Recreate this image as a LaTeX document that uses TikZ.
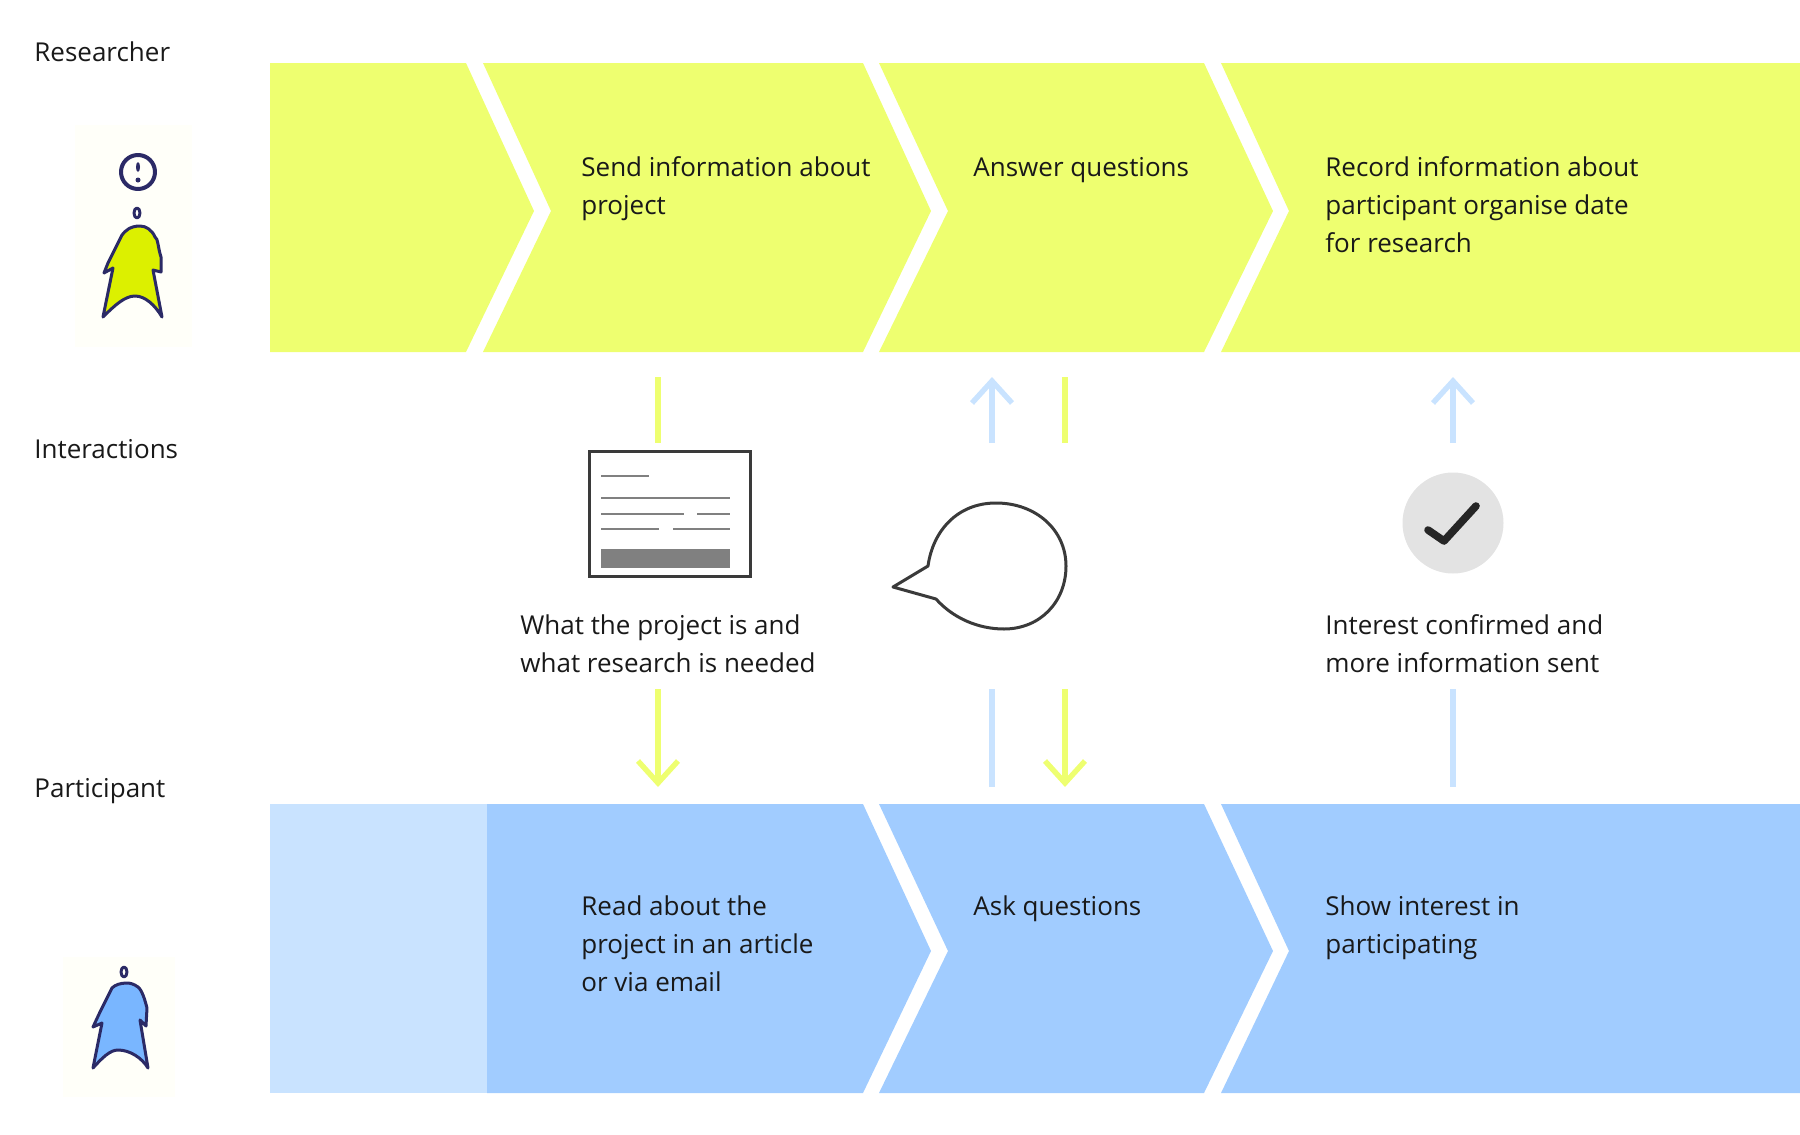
\documentclass[tikz,border=0pt]{standalone}
\usepackage{fontspec}
\setmainfont{Open Sans}
\usetikzlibrary{arrows.meta}

\definecolor{lime}{HTML}{EEFF70}
\definecolor{skydark}{HTML}{A1CCFF}
\definecolor{skylight}{HTML}{C9E3FF}
\definecolor{limeline}{HTML}{EEFF70}
\definecolor{inkline}{HTML}{3A3A3A}
\definecolor{sketchink}{HTML}{2B2A66}
\definecolor{sketchlime}{HTML}{DCF000}
\definecolor{sketchsky}{HTML}{79B6FF}
\definecolor{paper}{HTML}{FFFFF9}

\begin{document}
\begin{tikzpicture}[%
        x=0.5pt,
        y=-0.5pt,
        >={Straight Barb[length=11pt,width=20pt]},
        label/.style={anchor=north west,inner sep=0pt,align=left,text=black!90,
                      font=\fontsize{13}{19}\selectfont},
        limeflow/.style={draw=limeline,line width=2.7pt},
        skyflow/.style={draw=skylight,line width=2.7pt},
        sketch/.style={draw=sketchink,line width=1.5pt,line join=round},
        docline/.style={draw=gray,line width=1pt}
        ]
        \useasboundingbox (0,0) rectangle (1800,1135);

        % bands
        \fill[lime] (270,63) -- (466,63) -- (534,211) -- (466,352) -- (270,352) -- cycle;
        \fill[lime] (483,63) -- (863,63) -- (931,211) -- (863,352) -- (483,352) -- (551,211) -- cycle;
        \fill[lime] (879,63) -- (1204,63) -- (1273,211) -- (1204,352) -- (879,352) -- (948,211) -- cycle;
        \fill[lime] (1221,63) -- (1800,63) -- (1800,352) -- (1221,352) -- (1289,211) -- cycle;

        \fill[skylight] (270,804) rectangle (487,1093);
        \fill[skydark] (487,804) -- (863,804) -- (931,951) -- (863,1093) -- (487,1093) -- cycle;
        \fill[skydark] (879,804) -- (1204,804) -- (1273,951) -- (1204,1093) -- (879,1093) -- (948,951) -- cycle;
        \fill[skydark] (1221,804) -- (1800,804) -- (1800,1093) -- (1221,1093) -- (1289,951) -- cycle;

        % row names
        \node[label] (researcher) at (34,41) {Researcher};
        \node[label] (interactions) at (34,439) {Interactions};
        \node[label] (participant) at (34,778) {Participant};

        % band texts
        \node[label] (send) at (581,156) {Send information about\\project};
        \node[label] (answer) at (973,157) {Answer questions};
        \node[label] (record) at (1325,156) {Record information about\\participant organise date\\for research};
        \node[label] (read) at (581,895) {Read about the\\project in an article\\or via email};
        \node[label] (ask) at (973,895) {Ask questions};
        \node[label] (show) at (1325,895) {Show interest in\\participating};

        \node[label] (what) at (520,614) {What the project is and\\what research is needed};
        \node[label] (confirmed) at (1325,614) {Interest confirmed and\\more information sent};

        % researcher figure
        \fill[paper] (75,125) rectangle (192,347);
        \draw[sketch,line width=2pt] (138,172) circle (17);
        \fill[sketchink] (138,167) ellipse (2 and 5);
        \fill[sketchink] (138,180) circle (2.5);
        \draw[sketch] (137,213) ellipse (3 and 5);
        \draw[sketch,fill=sketchlime] (140,226) .. controls (130,226) and (125,231) .. (122,235)
                -- (108,263) -- (104,273) -- (113,268) -- (103,317)
                .. controls (115,305) and (125,296) .. (135,296)
                .. controls (145,296) and (155,305) .. (162,317)
                -- (153,270) -- (161,272) -- (161,257)
                .. controls (158,248) and (158,238) .. (155,237)
                .. controls (152,230) and (146,226) .. (140,226) -- cycle;

        % participant figure
        \fill[paper] (63,957) rectangle (175,1097);
        \draw[sketch] (124,972) ellipse (3 and 5);
        \draw[sketch,fill=sketchsky] (127,983) .. controls (120,983) and (115,985) .. (112,988)
                -- (100,1012) -- (93,1027) -- (102,1023) -- (93,1068)
                .. controls (102,1058) and (110,1050) .. (118,1050)
                .. controls (130,1050) and (142,1058) .. (148,1068)
                -- (140,1020) -- (146,1026) -- (147,1008)
                .. controls (145,1000) and (142,990) .. (138,987)
                .. controls (134,984) and (130,983) .. (127,983) -- cycle;

        % document
        \node[draw=inkline,line width=1.5pt,minimum width=80.5pt,minimum height=62.5pt,inner sep=0pt] (doc) at (670,514) {};
        \draw[docline] (601,476) -- (649,476);
        \draw[docline] (601,498) -- (730,498);
        \draw[docline] (601,514) -- (684,514) (697,514) -- (730,514);
        \draw[docline] (601,529) -- (659,529) (673,529) -- (730,529);
        \fill[gray] (601,549) rectangle (730,568);

        % speech bubble
        \draw[inkline,line width=1.5pt,line join=round] (893,587) -- (928,566)
                .. controls (933,530) and (958,503) .. (996,503)
                .. controls (1036,503) and (1066,530) .. (1066,566)
                .. controls (1066,602) and (1040,629) .. (1004,629)
                .. controls (978,629) and (953,618) .. (936,599) -- cycle;

        % tick
        \node[circle,fill=black!11,minimum size=50.5pt,inner sep=0pt] (tick) at (1453,523) {};
        \draw[black!85,line width=3.8pt,line cap=round,line join=round] (1428,530) -- (1444,541) -- (1476,506);

        % flows
        \coordinate (s1) at (658,377);
        \coordinate (e1) at (658,443);
        \coordinate (s2) at (658,689);
        \coordinate (e2) at (658,787);
        \coordinate (s3) at (992,443);
        \coordinate (e3) at (992,377);
        \coordinate (s4) at (992,787);
        \coordinate (e4) at (992,689);
        \coordinate (s5) at (1065,377);
        \coordinate (e5) at (1065,443);
        \coordinate (s6) at (1065,689);
        \coordinate (e6) at (1065,787);
        \coordinate (s7) at (1453,443);
        \coordinate (e7) at (1453,377);
        \coordinate (s8) at (1453,787);
        \coordinate (e8) at (1453,689);

        \draw[limeflow] (s1) -- (e1);
        \draw[limeflow,->] (s2) -- (e2);
        \draw[skyflow,->] (s3) -- (e3);
        \draw[skyflow] (s4) -- (e4);
        \draw[limeflow] (s5) -- (e5);
        \draw[limeflow,->] (s6) -- (e6);
        \draw[skyflow,->] (s7) -- (e7);
        \draw[skyflow] (s8) -- (e8);

\end{tikzpicture}
\end{document}
